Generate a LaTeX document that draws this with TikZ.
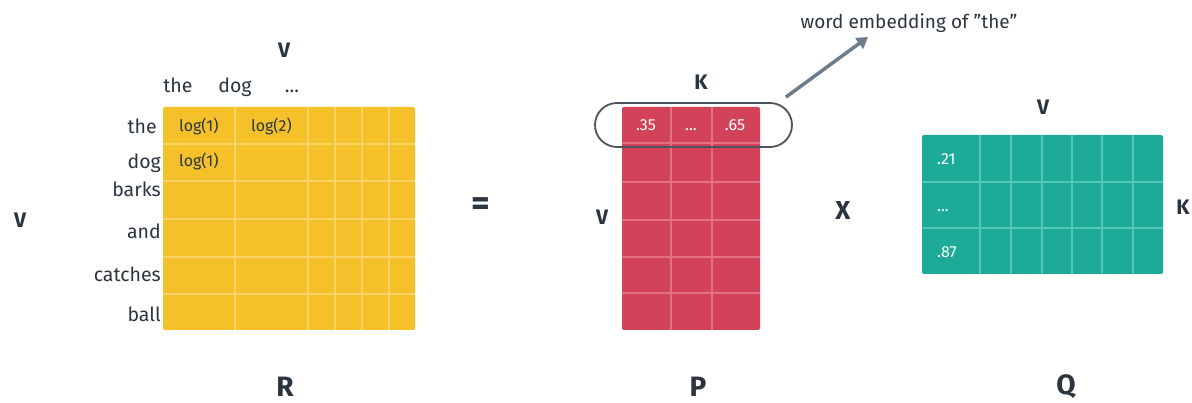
\documentclass[tikz,border=0pt]{standalone}
\usepackage{fontspec}
\setmainfont{Fira Sans}[Ligatures=ResetAll]
\usetikzlibrary{arrows.meta,positioning}
\definecolor{ryellow}{HTML}{F4C12A}
\definecolor{rline}{HTML}{F8D468}
\definecolor{pred}{HTML}{D2435A}
\definecolor{pline}{HTML}{E37084}
\definecolor{qteal}{HTML}{1DAB97}
\definecolor{qline}{HTML}{55C6B5}
\definecolor{ink}{HTML}{2B3540}
\definecolor{arrowgray}{HTML}{6D7D8B}

\begin{document}
\begin{tikzpicture}[x=1pt, y=-1pt, >=Triangle,
  mat/.style={draw=none, rounded corners=2pt, inner sep=0pt},
  gridln/.style={line width=1.6pt},
  lbl/.style={font=\fontsize{19.5}{19.5}\selectfont, text=ink, inner sep=0pt},
  dimlbl/.style={font=\fontsize{21}{21}\selectfont\bfseries, text=ink, inner sep=0pt},
  bigname/.style={font=\fontsize{28}{28}\selectfont\bfseries, text=ink, inner sep=0pt},
  cell/.style={font=\fontsize{16}{16}\selectfont, inner sep=0pt}]
\useasboundingbox (0,0) rectangle (1192,403);

% R = word co-occurrence matrix
\node[mat, fill=ryellow, minimum width=252, minimum height=223] (R) at (289,218.5) {};
\foreach \x in {235,308,335,362,389}
  \draw[gridln, rline] (\x,107) -- (\x,330);
\foreach \y in {144,181,219,257,294}
  \draw[gridln, rline] (163,\y) -- (415,\y);
\node[dimlbl] (Rtop) at (284,50) {V};
\node[dimlbl] (Rleft) at (20,220) {V};
\node[lbl, anchor=base] (c1) at (178,93) {the};
\node[lbl, anchor=base] (c2) at (235,93) {dog};
\node[lbl, anchor=base] (c3) at (292,93) {...};
\node[lbl, anchor=base east] (r1) at (157,134) {the};
\node[lbl, anchor=base east] (r2) at (161,169) {dog};
\node[lbl, anchor=base east] (r3) at (161,197) {barks};
\node[lbl, anchor=base east] (r4) at (161,239) {and};
\node[lbl, anchor=base east] (r5) at (161,282) {catches};
\node[lbl, anchor=base east] (r6) at (161,322) {ball};
\node[cell, text=ink, anchor=base west] (l11) at (179,132) {log(1)};
\node[cell, text=ink, anchor=base west] (l12) at (251,132) {log(2)};
\node[cell, text=ink, anchor=base west] (l21) at (179,167) {log(1)};
\node[bigname] (Rname) at (285,387) {R};

\node[font=\fontsize{36}{36}\selectfont\bfseries, text=ink, inner sep=0pt] (eq) at (481,207) {=};

% P = word embeddings
\node[mat, fill=pred, minimum width=138, minimum height=223] (P) at (691,218.5) {};
\foreach \x in {671,712}
  \draw[gridln, pline] (\x,107) -- (\x,330);
\foreach \y in {143,182,220,257,293}
  \draw[gridln, pline] (622,\y) -- (760,\y);
\node[dimlbl] (Ptop) at (701,82) {K};
\node[dimlbl] (Pleft) at (602,217) {V};
\node[cell, text=white, anchor=base] (p1) at (646,131) {.35};
\node[cell, text=white, anchor=base] (p2) at (691,131) {...};
\node[cell, text=white, anchor=base] (p3) at (735,131) {.65};
\node[draw=ink!85, line width=1.8pt, rounded corners=22pt, minimum width=197,
      minimum height=44, inner sep=0pt] (oval) at (693.5,125) {};
\node[lbl, font=\fontsize{19}{19}\selectfont] (emb) at (909,23) {word embedding of "the"};
\coordinate (tip) at (868,37);
\draw[->, arrowgray, line width=3.5pt, -{Triangle[length=11pt,width=13pt]}]
  ([xshift=-7pt,yshift=5pt]oval.north east) -- (tip);
\node[bigname] (Pname) at (698,387) {P};

\node[font=\fontsize{26}{26}\selectfont\bfseries, text=ink, inner sep=0pt] (times) at (843,210) {X};

% Q = context embeddings
\node[mat, fill=qteal, minimum width=241, minimum height=139] (Q) at (1042.5,204.5) {};
\foreach \x in {980,1011,1042,1072,1102,1133}
  \draw[gridln, qline] (\x,135) -- (\x,274);
\foreach \y in {182,228}
  \draw[gridln, qline] (922,\y) -- (1163,\y);
\node[dimlbl] (Qtop) at (1043,107) {V};
\node[dimlbl] (Qright) at (1183,207) {K};
\node[cell, text=white, anchor=base west] (q1) at (937,165) {.21};
\node[cell, text=white, anchor=base west] (q2) at (937,212) {...};
\node[cell, text=white, anchor=base west] (q3) at (937,258) {.87};
\node[bigname] (Qname) at (1066,387) {Q};
\end{tikzpicture}
\end{document}
